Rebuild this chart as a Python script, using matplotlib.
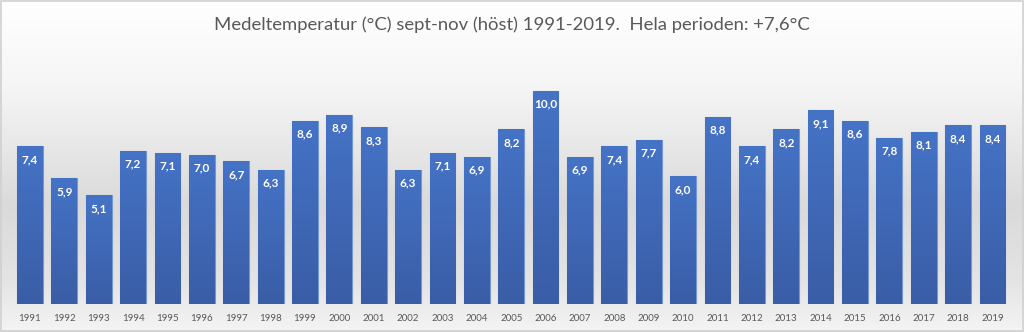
import matplotlib
matplotlib.use("Agg")
from matplotlib import pyplot as plt
from matplotlib.colors import LinearSegmentedColormap
import numpy as np

# data
years = [str(y) for y in range(1991, 2020)]
temps = [7.4, 5.9, 5.1, 7.2, 7.1, 7.0, 6.7, 6.3, 8.6, 8.9,
         8.3, 6.3, 7.1, 6.9, 8.2, 10.0, 6.9, 7.4, 7.7, 6.0,
         8.8, 7.4, 8.2, 9.1, 8.6, 7.8, 8.1, 8.4, 8.4]
title = "Medeltemperatur (°C) sept-nov (höst) 1991-2019.  Hela perioden: +7,6°C"

plt.rcParams['font.family'] = ['Lato', 'DejaVu Sans']

fig = plt.figure(figsize=(10.24, 3.32), dpi=100)

# background gradient over whole figure
bg = fig.add_axes([0, 0, 1, 1], zorder=0)
bg.set_axis_off()
bgcmap = LinearSegmentedColormap.from_list('bg', [
    (0.0, '#ffffff'), (0.25, '#f6f6f6'), (0.62, '#dadada'),
    (0.85, '#e4e4e4'), (1.0, '#f4f4f4')])
grad = np.linspace(0, 1, 256).reshape(-1, 1)
bg.imshow(grad, aspect='auto', cmap=bgcmap, extent=[0, 1, 0, 1], origin='upper')
bg.set_xlim(0, 1)
bg.set_ylim(0, 1)
bg.add_patch(plt.Rectangle((0.001, 0.002), 0.998, 0.995, fill=False,
                           edgecolor='#d0d0d0', linewidth=1.2))

ax = fig.add_axes([0.0125, 0.084, 0.9735, 0.77], zorder=1)
ax.patch.set_alpha(0)
x = np.arange(len(years))
bars = ax.bar(x, temps, width=0.75, color='#4472c4', edgecolor='#7497d6', linewidth=0.8)

# vertical gradient fill inside each bar
barcmap = LinearSegmentedColormap.from_list('bar', ['#3a5da6', '#4573c6'])
for b in bars:
    bx, by = b.get_x(), b.get_y()
    w, h = b.get_width(), b.get_height()
    im = ax.imshow(grad, aspect='auto', cmap=barcmap,
                   extent=[bx, bx + w, by, by + h], origin='lower', zorder=2)
    im.set_clip_path(b)

for xi, v in zip(x, temps):
    ax.text(xi, v - 0.62, f"{v:.1f}".replace('.', ','), ha='center', va='center',
            color='white', fontsize=8.5, fontweight='bold', zorder=3)

ax.set_xlim(-0.5, len(years) - 0.5)
ax.set_ylim(0, 12)
ax.set_xticks(x)
ax.set_xticklabels(years, fontsize=7, color='#595959')
ax.tick_params(axis='x', length=0, pad=7)
ax.set_yticks([])
for s in ax.spines.values():
    s.set_visible(False)

fig.text(0.5, 0.927, title, ha='center', va='center', fontsize=13.3, color='#595959')

fig.savefig('out.png', dpi=100)
